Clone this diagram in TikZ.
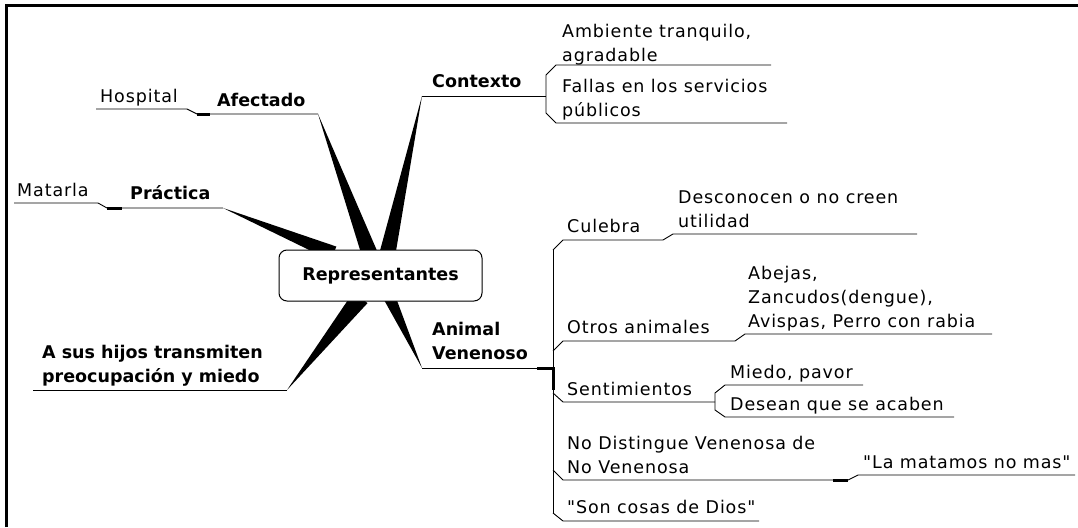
\documentclass[tikz,border=0pt]{standalone}
\usepackage{fontspec}
\setmainfont{DejaVu Sans}[Ligatures=TeXOff,LetterSpace=5,BoldFeatures={LetterSpace=0}]
\usetikzlibrary{calc,backgrounds}
\newcommand{\mlines}[1]{\begin{tabular}[b]{@{}l@{}}#1\end{tabular}}
\newcommand{\wedgefill}[3]{\fill (#1) -- ($(#2)!#3!90:(#1)$) -- ($(#2)!#3!-90:(#1)$) -- cycle;}
\tikzset{
  txt/.style={inner sep=0pt, anchor=base west, font=\fontsize{17.5}{24}\selectfont},
  btxt/.style={inner sep=0pt, anchor=base west, font=\fontsize{17.5}{24}\selectfont\bfseries},
  ln/.style={line width=0.9pt, line join=miter},
  junc/.style={line width=3pt},
  hub/.style={draw, line width=1pt, rounded corners=8pt, fill=white, minimum width=203pt,
    minimum height=51pt, inner sep=0pt, font=\fontsize{17.5}{24}\selectfont\bfseries},
}
\begin{document}
\begin{tikzpicture}[x=1pt,y=-1pt]
\useasboundingbox (0,0) rectangle (1078,527);
\draw[line width=2.5pt] (6.5,527) -- (6.5,5.5) -- (1078,5.5);

% central node
\node[hub] (rep) at (380.5,275.5) {Representantes};

% texts
\node[btxt] (ctx) at (432,88) {Contexto};
\node[txt] (amb) at (562,61) {\mlines{Ambiente tranquilo,\\agradable}};
\node[txt] (fal) at (562,116) {\mlines{Fallas en los servicios\\públicos}};
\node[btxt] (afe) at (217,106) {Afectado};
\node[txt] (hos) at (100,102) {Hospital};
\node[btxt] (pra) at (130,199) {Práctica};
\node[txt] (mat) at (17,196) {Matarla};
\node[btxt] (hij) at (42,382) {\mlines{A sus hijos transmiten\\preocupación y miedo}};
\node[btxt] (ani) at (432,359) {\mlines{Animal\\Venenoso}};
\node[txt] (cul) at (567,232) {Culebra};
\node[txt] (des) at (678,227) {\mlines{Desconocen o no creen\\utilidad}};
\node[txt] (otr) at (567,333) {Otros animales};
\node[txt] (abe) at (748,327) {\mlines{Abejas,\\Zancudos(dengue),\\Avispas, Perro con rabia}};
\node[txt] (sen) at (567,395) {Sentimientos};
\node[txt] (mie) at (730,378) {Miedo, pavor};
\node[txt] (dsn) at (730,410) {Desean que se acaben};
\node[txt] (nod) at (567,473) {\mlines{No Distingue Venenosa de\\No Venenosa}};
\node[txt] (lam) at (863,468) {"La matamos no mas"};
\node[txt] (son) at (567,513) {"Son cosas de Dios"};

% named ends
\coordinate (afeA) at (318,114);
\coordinate (ctxA) at (422,96);
\coordinate (praA) at (223,208);
\coordinate (hijA) at (287,390);
\coordinate (aniA) at (422,368);
\coordinate (wAfe) at ($(rep.north west)+(91,4)$);
\coordinate (wCtx) at ($(rep.north west)+(109,4)$);
\coordinate (wPra) at ($(rep.north west)+(55,4)$);
\coordinate (wHij) at ($(rep.south west)+(82,-4)$);
\coordinate (wAni) at ($(rep.south west)+(111,-4)$);
\coordinate (trT) at (553,250);
\coordinate (trB) at (553,513);

% tapered branches behind the central node
\begin{scope}[on background layer]
\wedgefill{afeA}{wAfe}{8pt}
\wedgefill{ctxA}{wCtx}{8pt}
\wedgefill{praA}{wPra}{7.5pt}
\wedgefill{hijA}{wHij}{9pt}
\wedgefill{aniA}{wAni}{6pt}
\end{scope}

% Contexto
\draw[ln] (ctxA) -- (546,96);
\draw[ln] (771,65) -- (556,65) -- (546,75) -- (546,113) -- (556,123) -- (787,123);

% Afectado / Hospital
\draw[ln] (afeA) -- (197,114) -- (187,109) -- (96,109);
\draw[junc] (197,114) -- (210,114);

% Practica / Matarla
\draw[ln] (praA) -- (107,208) -- (98,203) -- (14,203);
\draw[junc] (107,208) -- (122,208);

% A sus hijos
\draw[ln] (hijA) -- (33,390);

% Animal Venenoso
\draw[ln] (aniA) -- (553,368);
\draw[junc] (537,368) -- (553,368) -- (553,390);
\draw[ln] (trT) -- (trB);

% Culebra
\draw[ln] (trT) -- (563,240) -- (663,240) -- (673,234) -- (917,234);
% Otros animales
\draw[ln] (553,351) -- (563,341) -- (735,341) -- (745,334) -- (992,334);
% Sentimientos
\draw[ln] (553,393) -- (563,402) -- (715,402);
\draw[ln] (863,385) -- (725,385) -- (715,393) -- (715,410) -- (725,417) -- (954,417);
% No Distingue
\draw[ln] (553,470) -- (563,480) -- (848,480) -- (858,475) -- (1075,475);
\draw[junc] (833,480) -- (848,480);
% Son cosas de Dios
\draw[ln] (trB) -- (563,521) -- (759,521);
\end{tikzpicture}
\end{document}
